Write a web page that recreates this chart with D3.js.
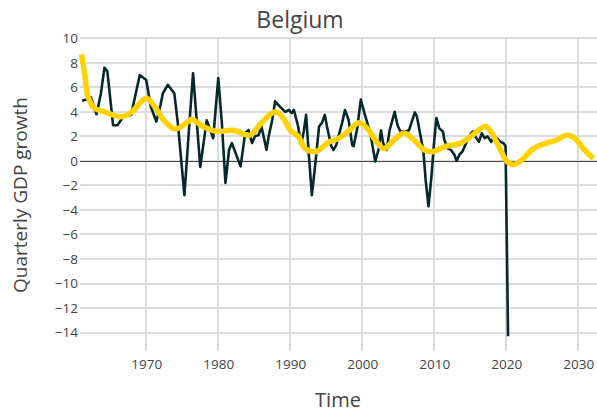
<!DOCTYPE html>
<html>
<head>
<meta charset="utf-8">
<script src="https://cdn.jsdelivr.net/npm/d3@7"></script>
<style>
  body { margin: 0; background: #fff; }
  text { font-family: "Open Sans", "Noto Sans", sans-serif; fill: #444; }
  .grid line { stroke: #dcdcdc; stroke-width: 1.5; shape-rendering: crispEdges; }
</style>
</head>
<body>
<script>
// quarterly GDP growth (dark line)
var gdpYears = [1961.1, 1961.7, 1962.3, 1963.1, 1963.7, 1964.2, 1964.6, 1965.4, 1966.0, 1966.8, 1967.9,
  1969.1, 1970.0, 1970.6, 1971.4, 1972.0, 1972.3, 1973.0, 1973.9, 1974.4, 1975.3, 1976.0, 1976.5,
  1977.5, 1978.4, 1978.9, 1979.3, 1980.0, 1980.5, 1981.0, 1981.5, 1981.9, 1982.4, 1983.1, 1983.75,
  1984.2, 1984.7, 1985.1, 1985.6, 1986.0, 1986.7, 1987.0, 1987.5, 1987.9, 1988.6, 1989.3, 1989.8,
  1990.2, 1990.5, 1991.1, 1991.5, 1991.9, 1992.2, 1992.6, 1993.0, 1993.4, 1994.0, 1994.4, 1994.8,
  1995.1, 1995.7, 1996.0, 1996.4, 1996.7, 1997.2, 1997.6, 1998.1, 1998.6, 1998.8, 1999.3, 1999.8,
  2000.3, 2000.7, 2001.2, 2001.8, 2002.3, 2002.6, 2002.9, 2003.4, 2003.8, 2004.5, 2004.9, 2005.3,
  2006.0, 2006.5, 2007.3, 2007.6, 2008.1, 2008.5, 2008.8, 2009.2, 2009.6, 2010.0, 2010.3, 2010.7,
  2011.2, 2011.4, 2011.9, 2012.3, 2012.8, 2013.1, 2013.5, 2013.9, 2014.5, 2015.1, 2015.4, 2015.7,
  2016.2, 2016.6, 2017.0, 2017.4, 2017.9, 2018.3, 2018.7, 2019.2, 2019.6, 2019.9, 2020.25];
var gdpValues = [4.9, 5.0, 5.2, 3.8, 5.5, 7.6, 7.3, 2.9, 2.9, 3.6, 3.75,
  7.0, 6.6, 4.5, 3.2, 4.6, 5.5, 6.2, 5.5, 3.0, -2.8, 3.1, 7.15,
  -0.5, 3.3, 2.5, 1.85, 6.75, 3.1, -1.8, 0.9, 1.45, 0.65, -0.45, 2.3,
  2.5, 1.45, 2.0, 2.1, 2.8, 0.9, 2.0, 3.35, 4.85, 4.4, 4.0, 4.15,
  3.9, 4.15, 2.8, 1.3, 2.5, 3.75, 0.35, -2.8, -0.7, 2.8, 3.1, 3.75,
  2.8, 1.2, 0.9, 1.3, 2.0, 3.1, 4.15, 3.35, 1.3, 1.2, 2.65, 5.0,
  3.9, 3.1, 2.0, -0.05, 1.0, 2.5, 1.45, 0.9, 2.5, 4.0, 2.9, 2.4,
  2.4, 2.5, 3.95, 3.6, 2.0, 0.75, -1.55, -3.7, -1.3, 1.7, 3.5, 2.65,
  2.4, 1.7, 1.0, 0.9, 0.5, 0.0, 0.5, 0.75, 1.55, 2.25, 2.4, 2.0,
  1.55, 2.25, 1.85, 2.0, 1.55, 2.0, 1.85, 1.55, 1.45, 1.2, -14.3];

// smoothed trend (yellow line)
var trendYears = [1961.0, 1961.5, 1961.9, 1962.8, 1964.2, 1966.6, 1968.0, 1970.0, 1971.2, 1972.6, 1974.0,
  1975.6, 1976.3, 1977.9, 1979.8, 1982.1, 1984.4, 1986.0, 1987.9, 1989.0, 1990.0, 1991.1, 1992.1,
  1993.5, 1995.4, 1996.8, 1998.2, 1999.5, 2000.7, 2001.8, 2003.0, 2004.4, 2005.8, 2007.2, 2008.6,
  2009.8, 2011.4, 2013.7, 2015.1, 2016.5, 2017.2, 2018.0, 2019.2, 2020.1, 2021.0, 2022.2, 2023.8,
  2025.6, 2027.0, 2028.4, 2029.5, 2030.7, 2032.1];
var trendValues = [8.7, 6.9, 5.25, 4.3, 4.0, 3.6, 4.0, 5.1, 4.4, 3.2, 2.6,
  3.1, 3.4, 2.8, 2.4, 2.5, 2.1, 3.1, 4.0, 3.5, 2.5, 2.0, 1.0,
  0.75, 1.55, 1.85, 2.5, 3.1, 2.65, 1.7, 1.0, 1.7, 2.25, 1.7, 0.9,
  0.75, 1.15, 1.45, 2.0, 2.65, 2.8, 2.25, 0.9, -0.05, -0.3, 0.1, 1.0,
  1.45, 1.7, 2.1, 1.85, 1.0, 0.2];

var yTicks = [10, 8, 6, 4, 2, 0, -2, -4, -6, -8, -10, -12, -14];
var xTicks = [1970, 1980, 1990, 2000, 2010, 2020, 2030];

var width = 597, height = 414;
var margin = {top: 37, right: 0, bottom: 63, left: 80};

var svg = d3.select("body").append("svg")
    .attr("width", width)
    .attr("height", height);

var x = d3.scaleLinear().domain([1960.8, 2032.6]).range([margin.left, width - margin.right]);
var y = d3.scaleLinear().domain([-15.5, 10.1]).range([height - margin.bottom, margin.top]);

// grid
var grid = svg.append("g").attr("class", "grid");
grid.selectAll("line.h").data(yTicks).enter().append("line")
    .attr("class", "h")
    .attr("x1", x.range()[0]).attr("x2", x.range()[1])
    .attr("y1", d => Math.round(y(d))).attr("y2", d => Math.round(y(d)));
grid.selectAll("line.v").data(xTicks).enter().append("line")
    .attr("class", "v")
    .attr("y1", y.range()[0]).attr("y2", y.range()[1])
    .attr("x1", d => Math.round(x(d))).attr("x2", d => Math.round(x(d)));

// zero line
svg.append("line")
    .attr("x1", x.range()[0]).attr("x2", x.range()[1])
    .attr("y1", Math.round(y(0)) + 0.5).attr("y2", Math.round(y(0)) + 0.5)
    .style("stroke", "#444").style("stroke-width", 1);

// axes
var yAxis = svg.append("g")
    .attr("transform", "translate(" + margin.left + ",0)")
    .call(d3.axisLeft(y).tickValues(yTicks).tickSize(0).tickPadding(2));
yAxis.select(".domain").remove();
yAxis.selectAll("text").style("font-size", "13.5px").style("fill", "#444");

var xAxis = svg.append("g")
    .attr("transform", "translate(0," + y.range()[0] + ")")
    .call(d3.axisBottom(x).tickValues(xTicks).tickFormat(d3.format("d")).tickSize(0).tickPadding(8));
xAxis.select(".domain").remove();
xAxis.selectAll("text").style("font-size", "13.5px").style("fill", "#444");

var gdp = gdpYears.map((d, i) => [d, gdpValues[i]]);
var trend = trendYears.map((d, i) => [d, trendValues[i]]);

var line = d3.line().x(d => x(d[0])).y(d => y(d[1]));

svg.append("path")
    .datum(gdp)
    .attr("d", line)
    .style("fill", "none")
    .style("stroke", "#05282b")
    .style("stroke-width", 2.6)
    .style("stroke-linejoin", "round");

svg.append("path")
    .datum(trend)
    .attr("d", line.curve(d3.curveCatmullRom))
    .style("fill", "none")
    .style("stroke", "#ffd200")
    .style("stroke-width", 5.5)
    .style("stroke-linejoin", "round");

// titles
svg.append("text")
    .attr("x", 300).attr("y", 28)
    .attr("text-anchor", "middle")
    .style("font-size", "23px")
    .text("Belgium");

svg.append("text")
    .attr("x", 338).attr("y", 407)
    .attr("text-anchor", "middle")
    .style("font-size", "20px")
    .text("Time");

svg.append("text")
    .attr("transform", "translate(27,195) rotate(-90)")
    .attr("text-anchor", "middle")
    .style("font-size", "19px")
    .text("Quarterly GDP growth");
</script>
</body>
</html>
